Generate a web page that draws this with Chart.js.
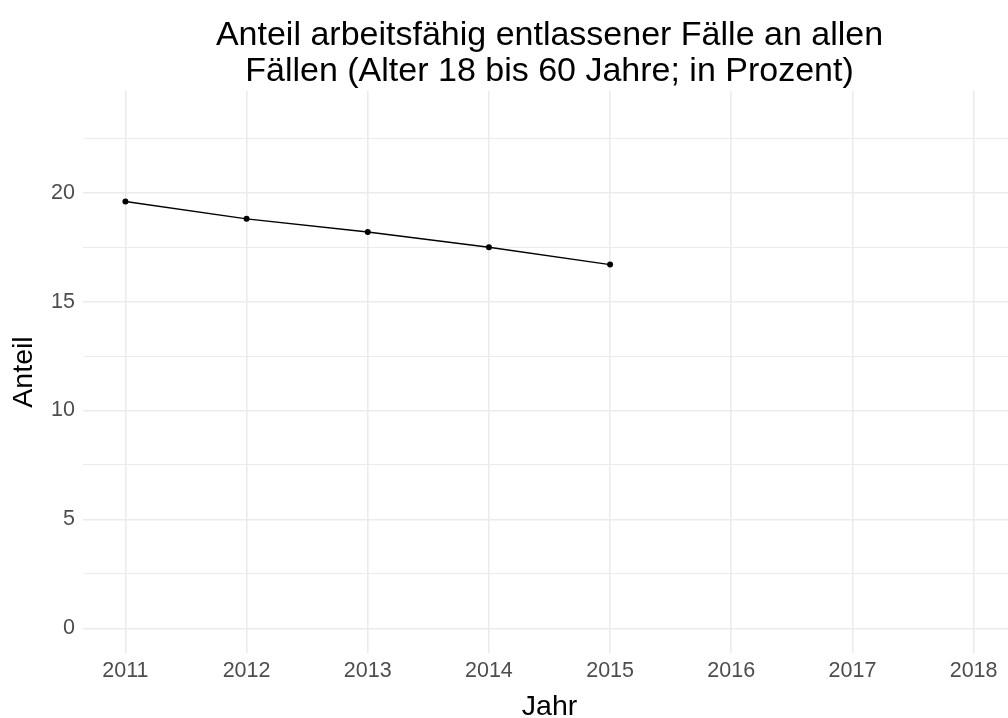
<!DOCTYPE html>
<html>
<head>
<meta charset="utf-8">
<script src="https://cdn.jsdelivr.net/npm/chart.js@4/dist/chart.umd.min.js"></script>
<style>
  html, body { margin: 0; padding: 0; background: #ffffff; overflow: hidden; }
  #wrap { width: 1019px; height: 718px; }
</style>
</head>
<body>
<div id="wrap"><canvas id="c" width="1019" height="718"></canvas></div>
<script>
// Share of cases discharged fit for work, ages 18-60 (percent)
const years = [2011, 2012, 2013, 2014, 2015];
const anteil = [19.6, 18.8, 18.2, 17.5, 16.7];

const xTicks = [2011, 2012, 2013, 2014, 2015, 2016, 2017, 2018];
const yTicks = [0, 2.5, 5, 7.5, 10, 12.5, 15, 17.5, 20, 22.5];
const yLabels = [0, 5, 10, 15, 20];

const titleLines = ['Anteil arbeitsfähig entlassener Fälle an allen',
                    'Fällen (Alter 18 bis 60 Jahre; in Prozent)'];

const FONT = '"Liberation Sans", Arial, Helvetica, sans-serif';
const GRID = '#EBEBEB';

const points = years.map((y, i) => ({ x: y, y: anteil[i] }));

// Title centred over the plotting panel rather than the whole canvas
const panelTitle = {
  id: 'panelTitle',
  afterDraw(chart) {
    const { ctx, chartArea } = chart;
    const cx = (chartArea.left + chartArea.right) / 2;
    ctx.save();
    ctx.fillStyle = '#000000';
    ctx.font = '34px ' + FONT;
    ctx.textAlign = 'center';
    ctx.textBaseline = 'alphabetic';
    titleLines.forEach((line, i) => ctx.fillText(line, cx, 45 + i * 35.5));
    ctx.restore();
  }
};

new Chart(document.getElementById('c'), {
  type: 'line',
  data: {
    datasets: [{
      data: points,
      borderColor: '#000000',
      backgroundColor: '#000000',
      borderWidth: 1.4,
      pointRadius: 3,
      pointHoverRadius: 3,
      pointBorderWidth: 0,
      tension: 0,
      fill: false
    }]
  },
  plugins: [panelTitle],
  options: {
    responsive: false,
    animation: false,
    layout: { padding: { top: 91, left: 0, right: 0, bottom: 0 } },
    plugins: {
      legend: { display: false },
      tooltip: { enabled: false },
      title: { display: false }
    },
    scales: {
      x: {
        type: 'linear',
        min: 2010.65,
        max: 2018.35,
        afterBuildTicks: s => { s.ticks = xTicks.map(v => ({ value: v })); },
        afterFit: s => { s.height = 65; },
        border: { display: false },
        grid: { color: GRID, lineWidth: 1.6, drawTicks: false },
        ticks: {
          color: '#4D4D4D',
          padding: 5,
          maxRotation: 0,
          autoSkip: false,
          font: { family: FONT, size: 21.5 },
          callback: v => String(v)
        },
        title: {
          display: true,
          text: 'Jahr',
          color: '#000000',
          font: { family: FONT, size: 28.5 },
          padding: { top: 0, bottom: -6 }
        }
      },
      y: {
        type: 'linear',
        min: -1.13,
        max: 24.67,
        afterBuildTicks: s => { s.ticks = yTicks.map(v => ({ value: v })); },
        afterFit: s => { s.width = 83; },
        border: { display: false },
        grid: {
          color: GRID,
          lineWidth: ctx => (yLabels.includes(ctx.tick && ctx.tick.value) ? 1.6 : 1.1),
          drawTicks: false
        },
        ticks: {
          color: '#4D4D4D',
          padding: 8,
          autoSkip: false,
          font: { family: FONT, size: 21.5 },
          callback: v => (yLabels.includes(v) ? String(v) : '')
        },
        title: {
          display: true,
          text: 'Anteil',
          color: '#000000',
          font: { family: FONT, size: 28.5 },
          padding: { top: 7, bottom: 0 }
        }
      }
    }
  }
});
</script>
</body>
</html>
